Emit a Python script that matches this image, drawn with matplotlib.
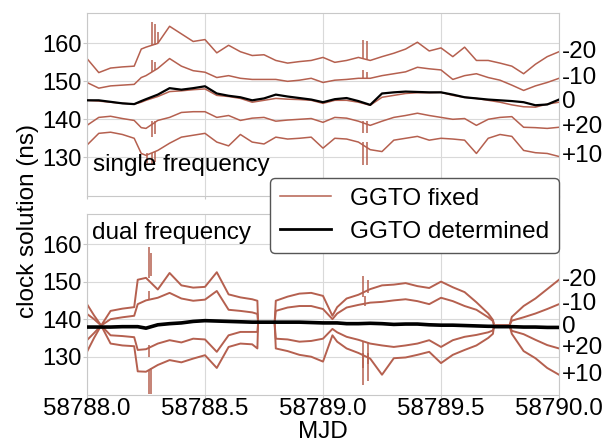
import numpy as np
import matplotlib
matplotlib.use("Agg")
import matplotlib.pyplot as plt

plt.rcParams['font.family'] = ['Liberation Sans', 'DejaVu Sans']

MJD0 = 58788.0
BROWN = '#b5604f'
FS = 17.5

# ---- single frequency panel (days after MJD0) ----
t_single = [0.0, 0.05, 0.1, 0.15, 0.2, 0.23, 0.25, 0.3, 0.35, 0.4, 0.45, 0.5, 0.55, 0.6,
            0.65, 0.7, 0.75, 0.8, 0.85, 0.9, 0.95, 1.0, 1.05, 1.1, 1.15, 1.2, 1.25, 1.3,
            1.35, 1.4, 1.45, 1.5, 1.55, 1.6, 1.65, 1.7, 1.75, 1.8, 1.85, 1.9, 1.95, 2.0]
s_m20 = [156.0, 152.3, 153.5, 153.8, 154.0, 158.5, 159.0, 160.0, 164.5, 162.5, 160.5, 161.0,
         157.5, 159.5, 157.8, 156.8, 157.0, 155.5, 154.8, 155.2, 155.5, 156.3, 155.0, 155.5,
         156.3, 155.5, 156.5, 157.4, 158.5, 160.3, 158.0, 158.8, 156.5, 159.0, 155.5, 155.5,
         154.8, 154.0, 152.0, 154.5, 156.5, 157.8]
s_m10 = [149.7, 148.2, 148.8, 149.0, 149.2, 151.0, 151.5, 153.4, 156.0, 154.0, 152.8, 152.4,
         151.0, 151.5, 150.8, 150.5, 150.5, 150.5, 150.0, 150.3, 150.8, 149.7, 150.3, 150.5,
         150.8, 150.8, 151.5, 152.0, 152.5, 153.7, 153.3, 153.0, 150.5, 151.5, 152.0, 151.0,
         150.3, 149.0, 147.6, 148.8, 149.7, 150.8]
s_0 = [145.0, 144.8, 144.5, 144.2, 144.0, 144.5, 145.0, 146.0, 147.3, 147.5, 147.8, 148.0,
       146.3, 146.0, 145.5, 144.5, 145.0, 145.5, 145.3, 145.2, 145.0, 144.2, 145.0, 145.0,
       144.5, 143.7, 145.8, 146.3, 146.8, 147.0, 147.0, 147.1, 146.3, 145.8, 145.5, 145.0,
       144.5, 143.8, 143.3, 143.2, 144.0, 144.5]
s_p20 = [138.4, 140.5, 140.8, 140.2, 139.7, 137.8, 137.6, 139.7, 140.5, 141.8, 142.0, 142.0,
         140.5, 141.0, 139.7, 140.3, 140.5, 139.5, 139.8, 140.0, 140.2, 139.2, 140.5, 140.3,
         139.5, 138.4, 139.5, 140.5, 141.0, 141.6, 141.0, 140.5, 140.0, 140.2, 138.4, 140.0,
         140.5, 140.7, 137.9, 137.8, 137.6, 137.9]
s_p10 = [133.2, 136.3, 136.6, 136.0, 135.0, 131.0, 130.5, 131.8, 133.7, 135.3, 135.8, 136.3,
         134.0, 133.0, 136.0, 134.0, 133.5, 135.3, 134.8, 135.0, 135.3, 132.4, 135.0, 134.8,
         134.0, 132.0, 131.5, 134.5, 135.0, 135.5, 134.5, 135.0, 134.8, 134.5, 131.0, 135.0,
         136.0, 135.5, 131.8, 131.2, 131.0, 130.2]
s_det = [145.0, 145.0, 144.6, 144.2, 144.0, 144.8, 145.3, 146.5, 148.2, 147.8, 148.2, 148.7,
         146.8, 146.2, 145.8, 145.0, 145.5, 146.5, 146.0, 145.6, 145.2, 144.5, 145.3, 145.6,
         144.8, 143.8, 146.8, 147.1, 147.3, 147.2, 147.1, 147.1, 146.5, 145.8, 145.5, 145.2,
         145.0, 144.8, 144.5, 143.7, 143.9, 145.2]
# short outliers (time, low, high)
s_spike_t = [0.275, 0.29, 0.30, 1.17, 1.185, 0.275, 0.29, 1.17, 1.185,
             0.275, 0.29, 1.17, 1.185, 0.255, 0.275, 0.29, 1.17, 1.185]
s_spike_lo = [159.5, 159.5, 160.0, 156.0, 156.0, 152.5, 153.0, 151.0, 151.0,
              135.3, 136.0, 136.3, 136.5, 128.5, 128.0, 128.7, 127.9, 128.0]
s_spike_hi = [165.5, 165.0, 163.0, 161.0, 160.5, 155.5, 155.0, 153.0, 152.5,
              139.5, 139.5, 139.5, 139.5, 131.0, 131.0, 131.5, 134.0, 134.0]

# ---- dual frequency panel ----
t_dual = [0.0, 0.03, 0.06, 0.1, 0.15, 0.2, 0.215, 0.25, 0.3, 0.35, 0.4, 0.45, 0.5, 0.55,
          0.6, 0.65, 0.7, 0.722, 0.725, 0.795, 0.8, 0.85, 0.9, 0.95, 1.0, 1.04, 1.06, 1.1,
          1.15, 1.2, 1.25, 1.3, 1.35, 1.4, 1.45, 1.5, 1.55, 1.6, 1.65, 1.7, 1.72, 1.725,
          1.79, 1.8, 1.85, 1.9, 1.95, 2.0]
d_m20 = [144.0, 141.0, 138.3, 142.2, 142.8, 143.2, 150.5, 151.0, 147.9, 152.3, 149.0, 148.4,
         148.6, 152.5, 146.6, 145.8, 145.3, 144.9, 139.0, 139.0, 144.9, 146.0, 146.8, 147.0,
         146.2, 140.9, 143.2, 145.5, 146.5, 148.0, 149.0, 149.2, 149.6, 148.8, 148.3, 150.0,
         148.5, 147.2, 144.5, 141.5, 139.8, 138.3, 138.3, 140.6, 143.5, 145.5, 148.0, 150.5]
d_m10 = [141.4, 140.0, 138.3, 140.0, 140.5, 140.9, 144.0, 145.0, 145.7, 147.0, 145.5, 144.9,
         145.2, 147.5, 142.5, 142.2, 141.8, 141.4, 139.0, 139.0, 142.2, 143.1, 143.5, 143.5,
         142.7, 140.0, 141.5, 143.1, 143.8, 144.4, 144.6, 145.0, 145.3, 144.8, 144.0, 145.7,
         144.8, 143.5, 142.5, 140.5, 139.5, 138.3, 138.3, 139.6, 140.5, 141.5, 142.7, 144.0]
d_p20 = [134.4, 136.3, 138.3, 135.7, 135.5, 135.2, 131.8, 132.0, 133.5, 134.4, 133.8, 134.8,
         134.6, 131.3, 135.7, 136.6, 136.6, 136.6, 139.0, 139.0, 134.8, 134.6, 134.0, 134.2,
         134.8, 137.4, 136.5, 135.3, 134.5, 133.5, 133.0, 132.6, 133.0, 133.5, 134.4, 132.6,
         134.4, 135.3, 135.8, 136.5, 137.0, 138.3, 138.3, 136.9, 136.0, 134.5, 133.1, 132.2]
d_p10 = [131.3, 135.0, 138.3, 133.5, 133.0, 132.8, 126.1, 126.0, 127.8, 129.1, 128.5, 129.5,
         130.4, 127.0, 132.6, 133.5, 133.3, 132.2, 139.0, 139.0, 132.2, 131.5, 130.5, 130.0,
         128.7, 135.7, 134.0, 132.2, 131.0, 129.5, 125.2, 129.6, 129.8, 130.5, 131.3, 128.3,
         130.5, 131.8, 133.0, 135.0, 136.1, 138.3, 138.3, 136.1, 131.5, 129.6, 127.0, 125.2]
d_det = [137.9, 137.9, 137.9, 137.9, 138.0, 138.0, 138.0, 137.6, 138.5, 138.8, 139.0, 139.4,
         139.6, 139.5, 139.4, 139.3, 139.2, 139.2, 139.2, 139.2, 139.2, 139.2, 139.2, 139.1,
         139.0, 139.0, 139.0, 138.8, 138.8, 138.9, 138.8, 138.6, 138.7, 138.7, 138.5, 138.4,
         138.4, 138.3, 138.2, 138.1, 138.1, 138.0, 138.0, 138.0, 137.9, 137.9, 137.8, 137.8]
d_spike_t = [0.262, 0.272, 1.17, 1.19, 0.262, 1.18, 0.262, 1.17, 1.19, 0.262, 0.272, 1.17, 1.19]
d_spike_lo = [151.0, 151.5, 146.0, 147.0, 145.0, 143.5, 130.0, 127.0, 128.0, 120.0, 120.0, 122.6, 123.5]
d_spike_hi = [159.2, 157.5, 151.4, 150.5, 147.5, 146.2, 133.0, 134.0, 134.0, 126.5, 127.0, 131.0, 131.0]

offset_labels = ['-20', '-10', '0', '+20', '+10']

fig = plt.figure(figsize=(6.16, 4.42), dpi=100)
ax1 = fig.add_axes([0.1412, 0.5566, 0.7663, 0.414])
ax2 = fig.add_axes([0.1412, 0.1063, 0.7663, 0.4095])

panels = [
    (ax1, t_single, [s_m20, s_m10, s_0, s_p20, s_p10], s_det, s_spike_t, s_spike_lo, s_spike_hi, 1.1, 1.6),
    (ax2, t_dual, [d_m20, d_m10, None, d_p20, d_p10], d_det, d_spike_t, d_spike_lo, d_spike_hi, 1.4, 2.6),
]
for ax, tt, fixed, det, sp_t, sp_lo, sp_hi, lw_fix, lw_det in panels:
    x = MJD0 + np.array(tt)
    ends = []
    for vals in fixed:
        if vals is None:
            ends.append(det[-1])
            continue
        ax.plot(x, vals, color=BROWN, lw=lw_fix, zorder=2)
        ends.append(vals[-1])
    ax.vlines(MJD0 + np.array(sp_t), sp_lo, sp_hi, color=BROWN, lw=1.1, zorder=2)
    if fixed[2] is None:
        # converged brown under the black
        ax.plot(x, det, color=BROWN, lw=lw_fix, zorder=2)
    ax.plot(x, det, color='black', lw=lw_det, zorder=3)
    for lab, yv in zip(offset_labels, ends):
        ax.annotate(lab, xy=(1.0, yv), xycoords=('axes fraction', 'data'),
                    xytext=(2, 0), textcoords='offset points', va='center', ha='left',
                    fontsize=FS, annotation_clip=False)
    ax.set_xlim(MJD0, MJD0 + 2.0)
    ax.set_ylim(119.8, 168)
    ax.set_yticks([130, 140, 150, 160])
    ax.set_xticks([58788.0, 58788.5, 58789.0, 58789.5, 58790.0])
    ax.grid(True, color='#d9d9d9', lw=0.8)
    ax.set_axisbelow(True)
    for sp in ax.spines.values():
        sp.set_color('#c8c8c8')
    ax.tick_params(axis='y', labelsize=17, color='#c8c8c8', length=3, pad=1)
    ax.tick_params(axis='x', labelsize=FS, color='#c8c8c8', length=2, pad=0)

ax1.tick_params(labelbottom=False)
ax2.set_xticklabels(['58788.0', '58788.5', '58789.0', '58789.5', '58790.0'])
ax2.set_xlabel('MJD', fontsize=FS, labelpad=1)

ax1.text(0.012, 0.17, 'single frequency', transform=ax1.transAxes, fontsize=FS,
         va='center', ha='left')
ax2.text(0.010, 0.895, 'dual frequency', transform=ax2.transAxes, fontsize=FS,
         va='center', ha='left')
fig.text(0.045, 0.50, 'clock solution (ns)', rotation=90, fontsize=FS,
         va='center', ha='center')

h1, = ax1.plot([], [], color=BROWN, lw=1.1)
h2, = ax1.plot([], [], color='black', lw=2.0)
leg = fig.legend([h1, h2], ['GGTO fixed', 'GGTO determined'], loc='upper right',
                 bbox_to_anchor=(0.9075, 0.597), fontsize=FS, frameon=True,
                 fancybox=True, borderaxespad=0, handlelength=2.1, labelspacing=0.45,
                 borderpad=0.4, handletextpad=0.8)
leg.get_frame().set_edgecolor('#555555')
leg.get_frame().set_alpha(1)

fig.savefig('out.png', dpi=100)
